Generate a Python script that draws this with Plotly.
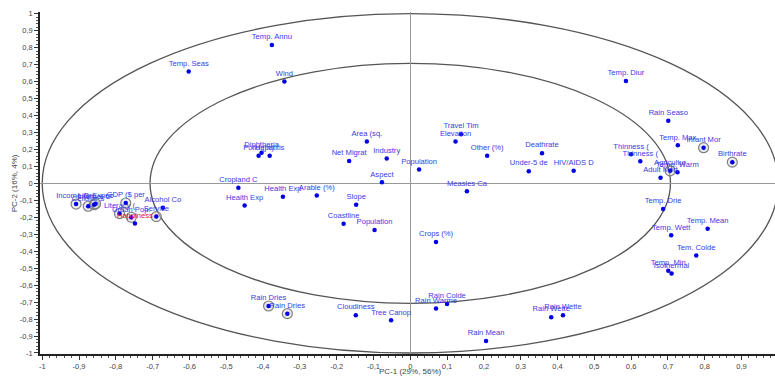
import plotly.graph_objects as go

labels = ["Temp. Seas", "Temp. Annu", "Wind", "Diphtheria", "Polio (%)", "Hepatitis",
          "Cropland C", "Health Exp", "Health Exp", "Arable (%)", "Area (sq.", "Net Migrat",
          "Industry", "Aspect", "Population", "Slope", "Coastline", "Population",
          "Travel Tim", "Elevation", "Other (%)", "Measles Ca", "Crops (%)", "Deathrate",
          "Under-5 de", "HIV/AIDS D", "Temp. Diur", "Rain Seaso", "Temp. Max", "Infant Mor",
          "Birthrate", "Thinness (", "Thinness (", "Agricultur", "Temp. Warm", "Adult Mort",
          "Temp. Drie", "Temp. Mean", "Temp. Wett", "Tem. Colde", "Temp. Min", "Isothermal",
          "Rain Wette", "Rain Wette", "Rain Dries", "Rain Dries", "Cloudiness", "Tree Canop",
          "Rain Warme", "Rain Colde", "Rain Mean", "Income Gro", "Cellular S", "Internet U",
          "Life Expec", "GDP ($ per", "Literacy (", "Urban Pop.", "Happiness", "Alcohol Co",
          "Service"]
pc1 = [-0.602, -0.376, -0.342, -0.404, -0.412, -0.382,
       -0.467, -0.450, -0.346, -0.254, -0.118, -0.166,
       -0.064, -0.077, 0.024, -0.147, -0.181, -0.097,
       0.138, 0.123, 0.209, 0.154, 0.070, 0.358,
       0.322, 0.444, 0.586, 0.701, 0.727, 0.797,
       0.875, 0.600, 0.625, 0.706, 0.726, 0.680,
       0.687, 0.808, 0.709, 0.777, 0.701, 0.710,
       0.383, 0.415, -0.385, -0.334, -0.148, -0.052,
       0.070, 0.100, 0.206, -0.908, -0.875, -0.859,
       -0.855, -0.773, -0.790, -0.758, -0.748, -0.672,
       -0.690]
pc2 = [0.660, 0.815, 0.600, 0.180, 0.163, 0.163,
       -0.026, -0.130, -0.079, -0.071, 0.247, 0.131,
       0.147, 0.006, 0.082, -0.126, -0.238, -0.275,
       0.290, 0.247, 0.163, -0.047, -0.346, 0.178,
       0.072, 0.074, 0.604, 0.369, 0.224, 0.210,
       0.125, 0.171, 0.130, 0.074, 0.065, 0.033,
       -0.151, -0.267, -0.306, -0.426, -0.515, -0.532,
       -0.789, -0.777, -0.723, -0.768, -0.777, -0.807,
       -0.738, -0.711, -0.929, -0.122, -0.135, -0.126,
       -0.120, -0.116, -0.178, -0.200, -0.236, -0.144,
       -0.196]
circled = ["Infant Mor", "Birthrate", "Agricultur", "Rain Dries", "Income Gro", "Cellular S",
           "Internet U", "Life Expec", "GDP ($ per", "Literacy (", "Urban Pop.", "Service"]
red_labels = ["Happiness"]
radii = [1.0, 0.707]
x_ticks = [-1, -0.9, -0.8, -0.7, -0.6, -0.5, -0.4, -0.3, -0.2, -0.1, 0, 0.1, 0.2, 0.3, 0.4, 0.5, 0.6, 0.7, 0.8, 0.9]
y_ticks = [-1, -0.9, -0.8, -0.7, -0.6, -0.5, -0.4, -0.3, -0.2, -0.1, 0, 0.1, 0.2, 0.3, 0.4, 0.5, 0.6, 0.7, 0.8, 0.9, 1]

def fmt(v):
    return ("%g" % v).replace(".", ",")

FONT = "Liberation Sans, Arial, sans-serif"
fig = go.Figure()

for r in radii:
    fig.add_shape(type="circle", xref="x", yref="y", x0=-r, x1=r, y0=-r, y1=r,
                  line=dict(color="#555555", width=1.3), layer="below")

cx = [x for x, l in zip(pc1, labels) if l in circled]
cy = [y for y, l in zip(pc2, labels) if l in circled]
fig.add_trace(go.Scatter(x=cx, y=cy, mode="markers", hoverinfo="skip",
                         marker=dict(symbol="circle", size=10, color="rgba(215,215,215,0.5)",
                                     line=dict(color="#808080", width=1.2))))

colors = ["#e02020" if l in red_labels else "#3a3ae6" for l in labels]
fig.add_trace(go.Scatter(x=pc1, y=pc2, mode="markers+text", text=labels,
                         textposition="top center",
                         textfont=dict(family=FONT, size=7.6, color=colors),
                         marker=dict(size=4.5, color="#0000e6")))

fig.update_layout(
    width=775, height=376, showlegend=False,
    paper_bgcolor="white", plot_bgcolor="white",
    margin=dict(l=40, r=0, t=12, b=22),
    font=dict(family=FONT, size=7.5, color="#333333"),
    xaxis=dict(range=[-1.006, 0.991], tickvals=x_ticks, ticktext=[fmt(v) for v in x_ticks],
               showgrid=False, zeroline=True, zerolinecolor="#999999", zerolinewidth=1,
               showline=True, linecolor="#222222", linewidth=1.5,
               ticks="outside", ticklen=4, tickcolor="#333333", automargin=False,
               minor=dict(dtick=0.02, ticks="outside", ticklen=2, tickcolor="#555555"),
               tickfont=dict(size=7.5, color="#444444")),
    yaxis=dict(range=[-1.006, 1.01], tickvals=y_ticks, ticktext=[fmt(v) for v in y_ticks],
               showgrid=False, zeroline=True, zerolinecolor="#999999", zerolinewidth=1,
               showline=True, linecolor="#222222", linewidth=1.5,
               ticks="outside", ticklen=4, tickcolor="#333333", automargin=False,
               minor=dict(dtick=0.02, ticks="outside", ticklen=2, tickcolor="#555555"),
               tickfont=dict(size=7.5, color="#444444")),
    annotations=[
        dict(text="PC-1 (29%, 56%)", xref="x", yref="paper", x=0, y=0, yshift=-17,
             yanchor="middle", showarrow=False, font=dict(size=8, color="#444444")),
        dict(text="PC-2 (16%, 4%)", xref="paper", yref="y", x=0, y=0, xshift=-26,
             xanchor="center", textangle=-90, showarrow=False,
             font=dict(size=8, color="#444444")),
    ],
)

fig.write_html("out.html", config={"displayModeBar": False},
               post_script="document.body.style.margin='0';document.body.style.overflow='hidden';")
